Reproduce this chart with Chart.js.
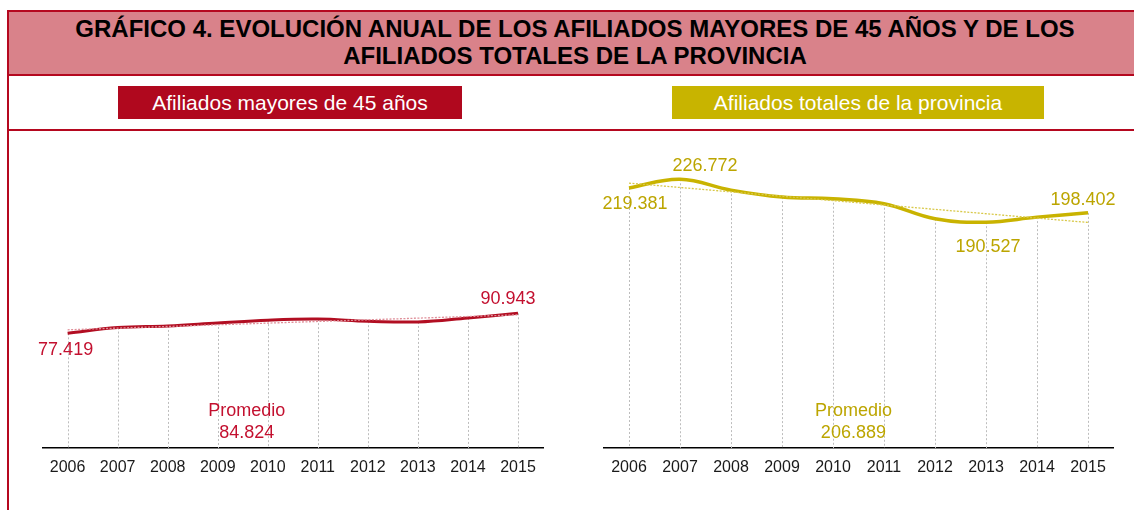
<!DOCTYPE html>
<html lang="es">
<head>
<meta charset="utf-8">
<script src="https://cdn.jsdelivr.net/npm/chart.js@4.4.1/dist/chart.umd.min.js"></script>
<style>
  body { margin: 0; width: 1134px; height: 510px; position: relative; overflow: hidden; background: #fff;
         font-family: "Liberation Sans", Arial, sans-serif; }
  #marco { position: absolute; left: 7px; top: 10px; width: 1140px; height: 520px;
           border-left: 2px solid #b5081f; border-top: 2px solid #b5081f; }
  #cabecera { position: absolute; left: 9px; top: 12px; width: 1132px; height: 62px; background: #d9828a;
              border-bottom: 2px solid #b5081f; }
  #titulo { position: absolute; left: 9px; top: 16px; width: 1132px; text-align: center; font-weight: bold;
            font-size: 24px; line-height: 26.5px; color: #000; }
  #separador { position: absolute; left: 9px; top: 129px; width: 1130px; height: 2px; background: #b5081f; }
  .subtitulo { position: absolute; top: 86px; height: 33px; line-height: 33px; text-align: center;
               color: #fff; font-size: 21px; }
  #sub1 { left: 118px; width: 344px; background: #b0081e; }
  #sub2 { left: 672px; width: 372px; background: #c8b400; }
  .grafico { position: absolute; top: 140px; height: 370px; }
  #g1 { left: 0; width: 570px; }
  #g2 { left: 570px; width: 564px; }
</style>
</head>
<body>
<div id="marco"></div>
<div id="cabecera"></div>
<div id="titulo">GRÁFICO 4. EVOLUCIÓN ANUAL DE LOS AFILIADOS MAYORES DE 45 AÑOS Y DE LOS<br>AFILIADOS TOTALES DE LA PROVINCIA</div>
<div class="subtitulo" id="sub1">Afiliados mayores de 45 años</div>
<div class="subtitulo" id="sub2">Afiliados totales de la provincia</div>
<div id="separador"></div>
<div class="grafico" id="g1"><canvas id="grafMayores"></canvas></div>
<div class="grafico" id="g2"><canvas id="grafTotales"></canvas></div>

<script>
// datos
const anios = ['2006', '2007', '2008', '2009', '2010', '2011', '2012', '2013', '2014', '2015'];
const afiliadosMayores45 = [77419, 81300, 82400, 84400, 86300, 87000, 85600, 85100, 87800, 90943];
const afiliadosTotales = [219381, 226772, 217600, 211700, 210300, 206100, 193400, 190527, 194800, 198402];
// líneas de tendencia (solo extremos)
const tendenciaMayores45 = [79800, null, null, null, null, null, null, null, null, 89900];
const tendenciaTotales = [223500, null, null, null, null, null, null, null, null, 190300];
const promedioMayores45 = 84824;
const promedioTotales = 206889;

const fuente = '"Liberation Sans", Arial, sans-serif';

function miles(v) {
    return String(v).replace(/\B(?=(\d{3})+(?!\d))/g, '.');
}

// líneas punteadas verticales desde cada punto hasta el eje
const lineasCaida = {
    id: 'lineasCaida',
    beforeDatasetsDraw(chart) {
        const ctx = chart.ctx;
        const fondo = chart.chartArea.bottom;
        ctx.save();
        ctx.strokeStyle = '#bdbdbd';
        ctx.lineWidth = 1;
        ctx.setLineDash([2, 2]);
        chart.getDatasetMeta(0).data.forEach(function (p) {
            const x = Math.round(p.x) + 0.5;
            ctx.beginPath();
            ctx.moveTo(x, p.y);
            ctx.lineTo(x, fondo);
            ctx.stroke();
        });
        ctx.restore();
    }
};

// etiquetas de valores y promedio
const etiquetas = {
    id: 'etiquetas',
    afterDatasetsDraw(chart, args, opts) {
        const ctx = chart.ctx;
        const meta = chart.getDatasetMeta(0);
        const valores = chart.data.datasets[0].data;
        ctx.save();
        ctx.font = '18px ' + fuente;
        ctx.fillStyle = opts.color;
        ctx.textAlign = 'center';
        ctx.textBaseline = 'middle';
        opts.puntos.forEach(function (e) {
            const p = meta.data[e.i];
            ctx.fillText(miles(valores[e.i]), p.x + e.dx, p.y + e.dy);
        });
        const x = chart.scales.x.getPixelForValue(opts.posPromedio);
        const b = chart.chartArea.bottom;
        ctx.fillText('Promedio', x, b - 37);
        ctx.fillText(miles(opts.promedio), x, b - 15);
        ctx.restore();
    }
};

function crearGrafico(id, serie, tendencia, colorLinea, grosor, colorTendencia, maxY, padding, etiq) {
    return new Chart(document.getElementById(id), {
        type: 'line',
        data: {
            labels: anios,
            datasets: [{
                data: serie,
                borderColor: colorLinea,
                borderWidth: grosor,
                tension: 0.4,
                pointRadius: 0,
                fill: false,
                order: 2
            }, {
                data: tendencia,
                borderColor: colorTendencia,
                borderWidth: 1.3,
                borderDash: [2, 1.5],
                spanGaps: true,
                pointRadius: 0,
                fill: false,
                order: 1
            }]
        },
        options: {
            responsive: true,
            maintainAspectRatio: false,
            animation: false,
            layout: { padding: padding },
            plugins: {
                legend: { display: false },
                tooltip: { enabled: false },
                etiquetas: etiq
            },
            scales: {
                x: {
                    offset: true,
                    grid: { display: false, drawTicks: false },
                    border: { display: true, color: '#000', width: 1.5 },
                    ticks: { color: '#1a1a1a', font: { family: fuente, size: 16 }, padding: 10, maxRotation: 0 },
                    afterFit: function (s) { s.height = 62; }
                },
                y: { display: false, min: 0, max: maxY }
            }
        },
        plugins: [lineasCaida, etiquetas]
    });
}

crearGrafico('grafMayores', afiliadosMayores45, tendenciaMayores45, '#b20e22', 3, '#e0909a', 200000,
    { left: 42.6, right: 27, top: 11.7, bottom: 0 },
    {
        color: '#c3102f',
        puntos: [{ i: 0, dx: -2, dy: 17 }, { i: 9, dx: -10, dy: -14 }],
        promedio: promedioMayores45,
        posPromedio: 3.58
    });

crearGrafico('grafTotales', afiliadosTotales, tendenciaTotales, '#c9b300', 3.5, '#d8c848', 250000,
    { left: 33.5, right: 20.5, top: 11.7, bottom: 0 },
    {
        color: '#bca500',
        puntos: [{ i: 0, dx: 6, dy: 16 }, { i: 1, dx: 25, dy: -13 }, { i: 7, dx: 2, dy: 25 }, { i: 9, dx: -5, dy: -13 }],
        promedio: promedioTotales,
        posPromedio: 4.4
    });
</script>
</body>
</html>
